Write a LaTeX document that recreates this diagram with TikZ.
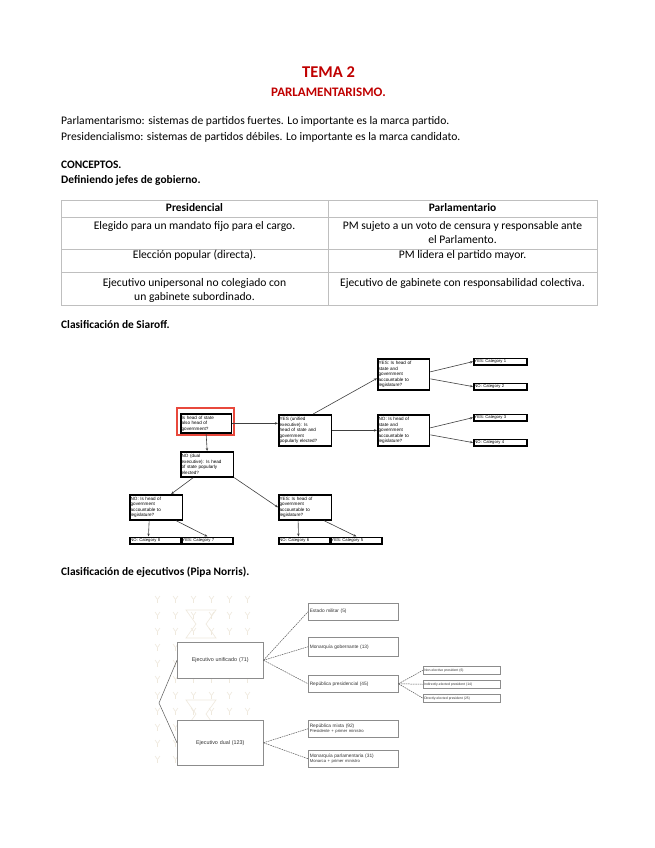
\documentclass[tikz,border=0pt]{standalone}
\usepackage{fontspec}
\setmainfont{Carlito}
\newfontfamily\arialfont{Liberation Sans}
\usetikzlibrary{arrows.meta,positioning}

\definecolor{titlered}{HTML}{C00000}
\definecolor{gridgray}{HTML}{BFBFBF}
\definecolor{boxgray}{HTML}{8C8C8C}
\definecolor{linegray}{HTML}{5A5A5A}
\definecolor{patterntan}{HTML}{EFE9DD}
\definecolor{alertred}{HTML}{E8483C}

\tikzset{
  bodytext/.style={anchor=base west, inner sep=0pt, font=\fontsize{11.6}{13}\selectfont},
  boldtext/.style={bodytext, font=\fontsize{11.4}{13}\selectfont\bfseries},
  celltext/.style={anchor=base, inner sep=0pt, font=\fontsize{11.6}{13}\selectfont},
  % Siaroff boxes
  qbox/.style 2 args={draw, line width=1.7pt, fill=white, anchor=north west,
    inner sep=0.8pt, text width=#1, minimum height=#2, align=left,
    font=\arialfont\fontsize{4.6}{5.5}\selectfont},
  catbox/.style={qbox={#1}{6.5pt}, inner sep=0.6pt, font=\arialfont\fontsize{4.2}{4.2}\selectfont},
  qarrow/.style={draw=black!75, line width=0.6pt, -{Stealth[length=3pt,width=2.4pt]}},
  % Norris boxes
  nbox/.style 2 args={draw=boxgray, line width=0.5pt, fill=white, anchor=north west,
    inner sep=1.5pt, text width=#1, minimum height=#2, text=black!80,
    font=\arialfont\fontsize{4.8}{5.8}\selectfont},
  nsmall/.style={nbox={#1}{8pt}, inner sep=1pt, font=\arialfont\fontsize{3.4}{4}\selectfont},
  nlink/.style={draw=linegray, line width=0.5pt, dash pattern=on 1.6pt off 0.8pt}
}

\begin{document}
\begin{tikzpicture}[x=1pt,y=-1pt]
\useasboundingbox[fill=white] (0,0) rectangle (655,848);

% Heading
\node[anchor=base, inner sep=0pt, text=titlered, font=\fontsize{16.5}{18}\selectfont\bfseries] (tema) at (328.5,77.5) {TEMA 2};
\node[anchor=base, inner sep=0pt, text=titlered, font=\fontsize{13}{15}\selectfont\bfseries] (parl) at (328.5,96.5) {PARLAMENTARISMO.};

\node[bodytext] (intro1) at (61,124.5) {Parlamentarismo: sistemas de partidos fuertes. Lo importante es la marca partido.};
\node[bodytext] (intro2) at (61,140.5) {Presidencialismo: sistemas de partidos débiles. Lo importante es la marca candidato.};

\node[boldtext] (conc) at (61,168.5) {CONCEPTOS.};
\node[boldtext] (jefes) at (61,183.5) {Definiendo jefes de gobierno.};

% Table
\draw[gridgray, line width=0.5pt] (61,200) rectangle (597,305);
\foreach \y in {217,249,272} \draw[gridgray, line width=0.5pt] (61,\y) -- (597,\y);
\draw[gridgray, line width=0.5pt] (328,200) -- (328,305);

\node[celltext, font=\fontsize{11.4}{13}\selectfont\bfseries] (hpres) at (194.5,211.5) {Presidencial};
\node[celltext, font=\fontsize{11.4}{13}\selectfont\bfseries] (hparl) at (462.5,211.5) {Parlamentario};
\node[celltext] (pres1) at (194.5,229.5) {Elegido para un mandato fijo para el cargo.};
\node[celltext] (parl1a) at (462.5,229.5) {PM sujeto a un voto de censura y responsable ante};
\node[celltext] (parl1b) at (462.5,243.5) {el Parlamento.};
\node[celltext] (pres2) at (194.5,258.5) {Elección popular (directa).};
\node[celltext] (parl2) at (462.5,258.5) {PM lidera el partido mayor.};
\node[celltext] (pres3a) at (194.5,286.5) {Ejecutivo unipersonal no colegiado con};
\node[celltext] (pres3b) at (194.5,300.5) {un gabinete subordinado.};
\node[celltext] (parl3) at (462.5,286.5) {Ejecutivo de gabinete con responsabilidad colectiva.};

\node[boldtext] (siaroff) at (61,328.5) {Clasificación de Siaroff.};

% Siaroff tree
\draw[alertred, line width=1.3pt] (177,408) rectangle (234,435);
\node[qbox={49pt}{19pt}] (root) at (180,413) {Is head of state\\also head of\\government?};
\node[qbox={51pt}{31pt}] (unified) at (278,414) {YES (unified\\executive): Is\\head of state and\\government\\popularly elected?};
\node[qbox={50pt}{31pt}] (yesleg) at (377,358) {YES: Is head of\\state and\\government\\accountable to\\legislature?};
\node[qbox={50pt}{31pt}] (noleg) at (377,414) {NO: Is head of\\state and\\government\\accountable to\\legislature?};
\node[catbox={52pt}] (cat1) at (473,357.5) {YES: Category 1};
\node[catbox={52pt}] (cat2) at (473,382.5) {NO: Category 2};
\node[catbox={52pt}] (cat3) at (473,413.5) {YES: Category 3};
\node[catbox={52pt}] (cat4) at (473,438.5) {NO: Category 4};
\node[qbox={51pt}{25pt}] (dual) at (180,451) {NO (dual\\executive): Is head\\of state popularly\\elected?};
\node[qbox={51pt}{25pt}] (nogov) at (129,494) {NO: Is head of\\government\\accountable to\\legislature?};
\node[qbox={51pt}{25pt}] (yesgov) at (278,494) {YES: Is head of\\government\\accountable to\\legislature?};
\node[catbox={50pt}] (cat8) at (129,536.5) {NO: Category 8};
\node[catbox={50pt}] (cat7) at (181,536.5) {YES: Category 7};
\node[catbox={50pt}] (cat6) at (278,536.5) {NO: Category 6};
\node[catbox={50pt}] (cat5) at (330,536.5) {YES: Category 5};

\draw[qarrow] (root.east) -- (root.east -| unified.west);
\draw[qarrow] (root.south) -- (dual.north);
\draw[qarrow] ([xshift=8pt]unified.north) -- ([yshift=-4pt]yesleg.west);
\draw[qarrow] (unified.east) -- (noleg.west);
\draw[qarrow] ([yshift=2.5pt]yesleg.east) -- (cat1.west);
\draw[qarrow] ([yshift=-4.5pt]yesleg.east) -- (cat2.west);
\draw[qarrow] ([yshift=2.5pt]noleg.east) -- (cat3.west);
\draw[qarrow] ([yshift=-4.5pt]noleg.east) -- (cat4.west);
\draw[qarrow] ([xshift=-14pt]dual.south) -- ([xshift=15pt]nogov.north);
\draw[qarrow] (dual.south east) -- (yesgov.west);
\draw[qarrow] ([xshift=-7pt]nogov.south) -- ([xshift=-7pt]cat8.north);
\draw[qarrow] ([xshift=20pt]nogov.south) -- (cat7.north);
\draw[qarrow] ([xshift=-7pt]yesgov.south) -- ([xshift=-6pt]cat6.north);
\draw[qarrow] ([xshift=19pt]yesgov.south) -- (cat5.north);

\node[boldtext] (norris) at (61,575.5) {Clasificación de ejecutivos (Pipa Norris).};

% Norris tree, faded pattern behind it
\begin{scope}[patterntan, line width=0.6pt]
\foreach \x in {155,173,...,245}
  \foreach \y in {596,612,...,756} {
    \draw (\x,\y) -- (\x+2.5,\y+3.5) -- (\x+5,\y);
    \draw (\x+2.5,\y+3.5) -- (\x+2.5,\y+7);
  }
\draw (186,610) -- (216,610) -- (206,624) -- (216,638) -- (186,638) -- (196,624) -- cycle;
\draw (186,700) -- (216,700) -- (206,714) -- (216,728) -- (186,728) -- (196,714) -- cycle;
\end{scope}

\coordinate (fork) at (159,703);
\node[nbox={83pt}{36pt}, align=center, font=\arialfont\fontsize{5.4}{6.4}\selectfont] (unif) at (177,642) {Ejecutivo unificado (71)};
\node[nbox={83pt}{45pt}, align=center, font=\arialfont\fontsize{5.4}{6.4}\selectfont] (dualn) at (177,720) {Ejecutivo dual (123)};
\node[nbox={87pt}{17pt}, align=left] (mil) at (308,603) {Estado militar (5)};
\node[nbox={87pt}{19pt}, align=left] (mongob) at (308,637) {Monarquía gobernante (13)};
\node[nbox={87pt}{17pt}, align=left] (reppres) at (308,675) {República presidencial (45)};
\node[nbox={87pt}{17pt}, align=left] (repmix) at (308,720) {República mixta (92)\\{\fontsize{4.2}{5}\selectfont Presidente + primer ministro}};
\node[nbox={87pt}{17pt}, align=left] (monpar) at (308,750) {Monarquía parlamentaria (31)\\{\fontsize{4.2}{5}\selectfont Monarca + primer ministro}};
\node[nsmall={75pt}] (nonel) at (423,666) {Non-elective president (6)};
\node[nsmall={75pt}] (indir) at (423,680) {Indirectly-elected president (14)};
\node[nsmall={75pt}] (direl) at (423,694) {Directly-elected president (25)};

\draw[linegray, line width=0.5pt] (unif.west) -- (fork) -- (dualn.west);
\draw[nlink] (unif.east) -- (mil.west);
\draw[nlink] (unif.east) -- (mongob.west);
\draw[nlink] (unif.east) -- (reppres.west);
\draw[nlink] (dualn.east) -- (repmix.west);
\draw[nlink] (dualn.east) -- (monpar.west);
\draw[nlink] (reppres.east) -- (nonel.west);
\draw[nlink] (reppres.east) -- (indir.west);
\draw[nlink] (reppres.east) -- (direl.west);

\end{tikzpicture}
\end{document}
